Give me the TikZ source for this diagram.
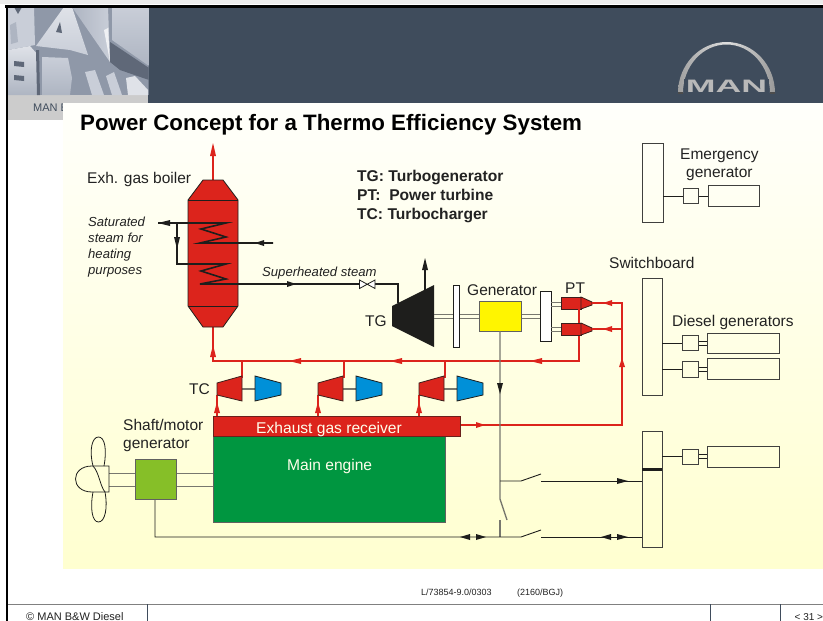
\documentclass[tikz,border=0pt]{standalone}
\usepackage{fontspec}
\setmainfont{Liberation Sans}
\usetikzlibrary{arrows.meta}
\definecolor{hdr}{HTML}{3F4C5C}
\definecolor{rd}{HTML}{DC241C}
\definecolor{grn}{HTML}{009640}
\definecolor{lgrn}{HTML}{86BF28}
\definecolor{blu}{HTML}{0090D8}
\definecolor{ylw}{HTML}{FFF500}
\definecolor{ink}{HTML}{1E1E1C}
\definecolor{gry}{HTML}{77776E}
\definecolor{txt}{HTML}{222222}
\definecolor{creamtop}{HTML}{FFFFFB}
\definecolor{creambot}{HTML}{FFFFD0}
\definecolor{mA}{HTML}{8F98A8}
\definecolor{mB}{HTML}{AEB5C2}
\definecolor{mC}{HTML}{C9CED8}
\definecolor{mD}{HTML}{DFE2E8}
\definecolor{mE}{HTML}{5F6878}
\definecolor{mF}{HTML}{F0F1F4}
\tikzset{
 x=1pt,y=-1pt,
 redline/.style={draw=rd,line width=2pt},
 blackline/.style={draw=ink,line width=1.6pt},
 thin line/.style={draw=ink,line width=0.9pt},
 shaftline/.style={draw=gry,line width=1pt},
 boxw/.style={draw=ink!85,line width=1pt,fill=none},
 disk/.style={draw=ink,line width=0.8pt,fill=white},
 rf/.style={fill=rd,draw=ink!85!rd,line width=0.8pt},
 bf/.style={fill=blu,draw=ink,line width=0.8pt},
 lab/.style={anchor=base west,inner sep=0pt,text=txt,font=\fontsize{15.5}{17}\selectfont},
 ilab/.style={anchor=base west,inner sep=0pt,text=txt,font=\fontsize{13.1}{15}\selectfont\itshape},
 blab/.style={anchor=base west,inner sep=0pt,text=txt,font=\fontsize{15.6}{17}\selectfont\bfseries},
 wlab/.style={anchor=base west,inner sep=0pt,text=white!92!yellow,font=\fontsize{15.6}{17}\selectfont},
 slab/.style={anchor=base west,inner sep=0pt,text=txt,font=\fontsize{11}{12}\selectfont},
 reflab/.style={anchor=base west,inner sep=0pt,text=txt,font=\fontsize{9}{10}\selectfont},
}
\begin{document}
\begin{tikzpicture}
\useasboundingbox (0,0) rectangle (823,621);
\fill[white] (0,0) rectangle (823,621);
% header
\fill[hdr] (148,7) rectangle (823,103);
\fill[gray!40] (8,95) rectangle (148,120);
\node[slab,text=hdr] (manb) at (33,111) {MAN B};
\shade[top color=creamtop,bottom color=creambot] (63,103) rectangle (823,568);
% metal tile
\begin{scope}
\clip (8,7) rectangle (148.5,95);
\fill[mA] (8,7) rectangle (149,95);
\fill[mC] (8,7) -- (34,7) -- (35,45) -- (8,50) -- cycle;
\fill[mE] (14,7) -- (22,7) -- (18,14) -- cycle;
\fill[mB] (10,25) -- (16,22) -- (18,42) -- (11,44) -- cycle;
\shade[top color=mD,bottom color=mC] (36,46) -- (64,7) -- (72,7) -- (88,55) -- (70,50) -- cycle;
\fill[mE] (56,32) -- (60,22) -- (62,33) -- cycle;
\shade[left color=mB,right color=mC] (72,7) -- (108,7) -- (110,62) -- cycle;
\fill[mF] (104,30) -- (108,28) -- (110,62) -- cycle;
\shade[top color=mC,bottom color=mB] (112,7) -- (149,7) -- (149,66) -- (112,40) -- cycle;
\fill[mE] (110,42) -- (149,68) -- (149,80) -- (120,70) -- (110,62) -- cycle;
\shade[top color=mD,bottom color=mB] (8,50) -- (30,46) -- (38,55) -- (38,95) -- (8,95) -- cycle;
\fill[mE] (14,61) -- (24,62) -- (24,67) -- (14,66) -- cycle;
\fill[mE] (14,75) -- (24,76) -- (24,81) -- (14,80) -- cycle;
\shade[top color=mC,bottom color=mB] (42,57) -- (68,58) -- (72,78) -- (70,95) -- (42,95) -- cycle;
\fill[mE] (36,50) -- (39,50) -- (40,95) -- (37,95) -- cycle;
\fill[mC] (85,72) -- (95,70) -- (104,95) -- (92,95) -- cycle;
\fill[mC] (106,76) -- (114,72) -- (122,95) -- (112,95) -- cycle;
\fill[mD] (126,78) -- (135,76) -- (148,90) -- (148,95) -- (128,95) -- cycle;
\end{scope}
% frame
\fill[gray!15] (0,0) rectangle (823,4);
\fill[black] (5,5) rectangle (823,7.5);
\fill[black] (6,5) rectangle (8.3,621);
% title
\node[anchor=base west,inner sep=0pt,font=\fontsize{22.3}{24}\selectfont\bfseries] (title) at (80,130) {Power Concept for a Thermo Efficiency System};
% MAN logo
\shade[left color=gray!75,right color=gray!80,middle color=gray!25]
 (678,93) arc[start angle=180,end angle=0,x radius=48.5,y radius=-51] -- (770,93)
 arc[start angle=0,end angle=180,x radius=43.5,y radius=-48.5] -- cycle;
\fill[hdr] (684,79) rectangle (769,94);
\fill[black!70] (678,92.3) rectangle (683,93.5);
\fill[black!70] (770,92.3) rectangle (775,93.5);
\node[anchor=center,inner sep=0pt,text=gray!55,font=\fontsize{15}{16}\selectfont\bfseries] (logoman) at (726.5,86.5) {\scalebox{2.38}[1.2]{MAN}};
% footer
\draw[gray,line width=1pt] (8,604) -- (823,604);
\draw[hdr,line width=0.8pt] (147,604) -- (147,621);
\draw[hdr,line width=0.8pt] (710.5,604) -- (710.5,621);
\draw[hdr,line width=0.8pt] (780,604) -- (780,621);
\node[slab] (copy) at (26,620) {© MAN B\&W Diesel};
\node[slab,font=\fontsize{10}{11}\selectfont] (pagen) at (794.5,620) {< 31 >};
\node[reflab] (ref1) at (421,595.5) {L/73854-9.0/0303};
\node[reflab] (ref2) at (517,595.5) {(2160/BGJ)};
% red pipes
\coordinate (bTop) at (213,180); \coordinate (bOut) at (213,148);
\coordinate (bBot) at (213,327); \coordinate (cRed) at (213,361);
\draw[redline] (bTop) -- (bOut);
\fill[rd] (213,143) -- (216,156) -- (210,156) -- cycle;
\draw[redline] (bBot) -- (cRed) -- (579,361) -- (579,297);
\fill[rd] (213,345) -- (216,357) -- (210,357) -- cycle;
\foreach \x in {295,396,536} \fill[rd] (\x-6,361) -- (\x+6,358) -- (\x+6,364) -- cycle;
\foreach \x in {242,344,445} \draw[redline] (\x,361) -- (\x,378);
% boiler
\path[fill=rd,draw=ink,line width=0.8pt] (203,180) -- (223,180) -- (238,200) -- (238,306) -- (223,327) -- (203,327) -- (188,306) -- (188,200) -- cycle;
\draw[ink,line width=0.8pt] (188,200) -- (238,200) (188,306) -- (238,306);
\draw[blackline] (273,243) -- (200,243) -- (226,237) -- (201,229) -- (226,223) -- (158,223);
\draw[blackline] (177,223) -- (177,264) -- (226,264) -- (201,271) -- (226,279) -- (200,284) -- (360.5,284);
\draw[blackline] (372.5,284) -- (398,284) -- (398,303);
\fill[ink] (158,223) -- (170,220) -- (170,226) -- cycle;
\fill[ink] (255,243) -- (264,240) -- (264,246) -- cycle;
\fill[ink] (177,249) -- (174,237) -- (180,237) -- cycle;
\fill[ink] (296,284) -- (287,281) -- (287,287) -- cycle;
\draw[ink,line width=0.8pt,fill=white] (359.5,280) -- (375,288.5) -- (375,280) -- (359.5,288.5) -- cycle;
% turbogenerator
\fill[ink] (392,306) -- (434,285) -- (434,347) -- (392,326) -- cycle;
\draw[blackline] (425,290) -- (425,262);
\fill[ink] (425,258) -- (428,270) -- (422,270) -- cycle;
\draw[shaftline] (434,314) -- (541,314) (434,318) -- (541,318);
\path[disk] (453.5,285) rectangle (459.5,347);
\path[fill=ylw,draw=ink!70,line width=1pt] (479,301) rectangle (521,331);
\path[disk] (540.5,291) rectangle (551,341);
\draw[shaftline] (551,302) -- (562,302) (551,306) -- (562,306) (551,327) -- (562,327) (551,331) -- (562,331);
% PT
\foreach \y in {297,323} {
 \path[rf] (561,\y) rectangle (581,\y+12);
 \path[rf] (581,\y) -- (592,\y+5) -- (592,\y+8) -- (581,\y+12) -- cycle;
}
\draw[redline] (592,303) -- (622,303) -- (622,425) -- (459,425);
\draw[redline] (592,329) -- (622,329);
\draw[redline] (579,309) -- (579,323);
\fill[rd] (603,303) -- (612,300) -- (612,306) -- cycle;
\fill[rd] (603,329) -- (612,326) -- (612,332) -- cycle;
\fill[rd] (622,358) -- (625,367) -- (619,367) -- cycle;
\fill[rd] (485,425) -- (476,422) -- (476,428) -- cycle;
% TC
\foreach \d in {0,101,202} {
 \draw[redline] (217+\d,416) -- (217+\d,395);
 \fill[rd] (217+\d,402) -- (220+\d,413) -- (214+\d,413) -- cycle;
 \draw[shaftline,line width=1.2pt] (242+\d,389) -- (255+\d,389);
 \path[rf] (217+\d,383) -- (242+\d,376) -- (242+\d,401) -- (217+\d,395) -- cycle;
 \path[bf] (255+\d,376) -- (281+\d,383) -- (281+\d,395) -- (255+\d,401) -- cycle;
}
% engine
\path[fill=grn,draw=ink!70,line width=1pt] (213,436) rectangle (445,522);
\path[fill=rd,draw=ink!60!rd,line width=1pt] (213,416) rectangle (460,436);
% electrics
\draw[shaftline,line width=1.3pt] (500,331) -- (500,499) -- (507,520);
\draw[shaftline,line width=1.3pt] (500,520) -- (500,537);
\fill[ink] (500,394) -- (497,383) -- (503,383) -- cycle;
\draw[thin line] (500,481) -- (521,481) -- (541,474);
\draw[thin line] (541,481) -- (642,481);
\fill[ink] (628,481) -- (617,478) -- (617,484) -- cycle;
\draw[thin line] (155,499) -- (155,537) -- (521,537) -- (541,530);
\draw[thin line] (541,537) -- (642,537);
\fill[ink] (460,537) -- (470,534) -- (470,540) -- cycle;
\fill[ink] (486,537) -- (476,534) -- (476,540) -- cycle;
\fill[ink] (601,537) -- (611,534) -- (611,540) -- cycle;
\fill[ink] (628,537) -- (617,534) -- (617,540) -- cycle;
% switchboards
\path[boxw] (642,143) rectangle (663,222);
\path[boxw] (642,278) rectangle (662,395);
\path[boxw] (642,431) rectangle (662,547);
\fill[ink] (642,467.5) rectangle (662,470.5);
% gensets
\draw[thin line] (663,196) -- (683,196) (698,196) -- (708,196);
\path[boxw] (683,188) rectangle (698,203);
\path[boxw] (708,185) rectangle (759,206);
\draw[thin line] (662,343) -- (682.5,343) (662,369) -- (682.5,369);
\draw[thin line] (698,341) -- (707.5,341) (698,345) -- (707.5,345) (698,367) -- (707.5,367) (698,371) -- (707.5,371);
\path[boxw] (682.5,335) rectangle (698,350);
\path[boxw] (682.5,361) rectangle (698,377);
\path[boxw] (707.5,333) rectangle (779,353);
\path[boxw] (707.5,358) rectangle (779,379);
\draw[thin line] (662,456) -- (682,456);
\draw[thin line] (698,454) -- (707,454) (698,458) -- (707,458);
\path[boxw] (682,449) rectangle (698,464);
\path[boxw] (707,446) rectangle (779,467);
% shaft generator and propeller
\draw[shaftline] (109,473) -- (213,473) (109,486) -- (213,486);
\path[fill=lgrn,draw=ink!70,line width=1pt] (135,459) rectangle (176,499);
\draw[ink,line width=0.8pt] (109,466) -- (109,492) -- (92,492) .. controls (70,492) and (70,466) .. (92,466) -- cycle;
\draw[ink,line width=0.8pt] (93,466) .. controls (89,450) and (92,437) .. (98.5,437) .. controls (105,437) and (107,450) .. (104,466);
\draw[ink,line width=0.8pt] (93,466) .. controls (99,472) and (100,486) .. (105,492);
\draw[ink,line width=0.8pt] (93,492) .. controls (90,508) and (92,522) .. (98.5,522) .. controls (105,522) and (108,508) .. (105,492);
% labels
\node[lab] (l1) at (87,183) {Exh. gas boiler};
\node[ilab] (l2) at (88,226) {Saturated};
\node[ilab] (l3) at (88,242) {steam for};
\node[ilab] (l4) at (88,258) {heating};
\node[ilab] (l5) at (88,274) {purposes};
\node[ilab] (l6) at (262,276) {Superheated steam};
\node[lab] (l7) at (365,326) {TG};
\node[blab] (k1) at (357,181) {TG: Turbogenerator};
\node[blab] (k2) at (357,200) {PT:\ \ Power turbine};
\node[blab] (k3) at (357,219) {TC: Turbocharger};
\node[lab] (e1) at (680,159) {Emergency};
\node[lab] (e2) at (686,177) {generator};
\node[lab] (sw) at (609,268) {Switchboard};
\node[lab] (dg) at (672,326) {Diesel generators};
\node[lab] (gn) at (467,295) {Generator};
\node[lab] (pt) at (565,293) {PT};
\node[lab] (tc) at (189,394) {TC};
\node[lab] (s1) at (123,430) {Shaft/motor};
\node[lab] (s2) at (123,448) {generator};
\node[wlab] (rc) at (256,433) {Exhaust gas receiver};
\node[wlab] (me) at (287,470) {Main engine};
\end{tikzpicture}
\end{document}
